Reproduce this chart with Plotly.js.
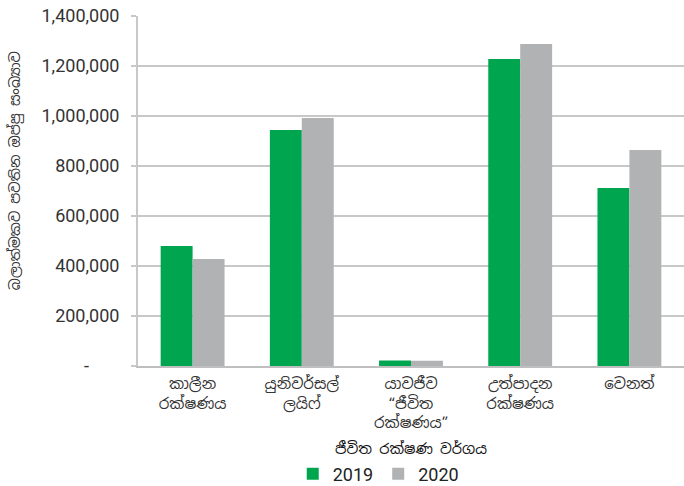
<!DOCTYPE html>
<html>
<head>
<meta charset="utf-8">
<script src="https://cdn.plot.ly/plotly-3.0.1.min.js"></script>
<style>html,body{margin:0;padding:0;background:#fff;}#chart{width:684px;height:486px;}</style>
</head>
<body>
<div id="chart"></div>
<script>
var categories = ["කාලීන<br>රක්ෂණය", "යුනිවර්සල්<br>ලයිෆ්", "යාවජීව<br>“ජීවිත<br>රක්ෂණය”", "උත්පාදන<br>රක්ෂණය", "වෙනත්"];
var series2019 = [480000, 944000, 22000, 1228000, 712000];
var series2020 = [428000, 992000, 21000, 1288000, 864000];
var yTickVals = [0, 200000, 400000, 600000, 800000, 1000000, 1200000, 1400000];
var yTickText = ["-\u2007\u2007\u2007", "200,000", "400,000", "600,000", "800,000", "1,000,000", "1,200,000", "1,400,000"];
var yTitle = "බලාත්මකව පවතින ඔප්පු සංඛ්‍යාව";
var xTitle = "ජීවිත රක්ෂණ වර්ගය";

var numFont = "Roboto, 'Liberation Sans', sans-serif";
var sinFont = "'Noto Sans Sinhala', 'Noto Sans', 'DejaVu Sans', sans-serif";

var data = [
  {type: "bar", name: "2019", x: categories, y: series2019, marker: {color: "#00A64F"}},
  {type: "bar", name: "2020", x: categories, y: series2020, marker: {color: "#B1B2B4"}}
];

var layout = {
  width: 684, height: 486,
  margin: {l: 138, r: 0, t: 16, b: 120, autoexpand: false},
  paper_bgcolor: "#fff", plot_bgcolor: "#fff",
  barmode: "group",
  bargap: 0.415,
  bargroupgap: 0,
  showlegend: true,
  legend: {orientation: "h", x: 0.44, xanchor: "center", y: -0.309, yanchor: "middle",
           font: {family: numFont, size: 18, color: "#222"}, itemwidth: 30, tracegroupgap: 0},
  xaxis: {
    type: "category",
    showgrid: false, showline: true, linecolor: "#BFBFBF", linewidth: 2,
    ticks: "", ticklabelstandoff: 3,
    tickfont: {family: sinFont, size: 15, color: "#333"},
    automargin: false
  },
  yaxis: {
    range: [0, 1400000],
    tickvals: yTickVals, ticktext: yTickText,
    showgrid: true, gridcolor: "#C8C8C8", gridwidth: 2,
    showline: true, linecolor: "#C8C8C8", linewidth: 2,
    ticks: "outside", ticklen: 5, tickcolor: "#C8C8C8", tickwidth: 2,
    ticklabelstandoff: 8,
    tickfont: {family: numFont, size: 18, color: "#333"},
    zeroline: false,
    automargin: false
  },
  annotations: [
    {text: xTitle, xref: "paper", yref: "paper", x: 0.5, y: -0.237, xanchor: "center", yanchor: "middle",
     showarrow: false, font: {family: sinFont, size: 14.5, color: "#111"}},
    {text: yTitle, xref: "paper", yref: "paper", x: -0.225, y: 0.557, xanchor: "center", yanchor: "middle",
     textangle: -90, showarrow: false, font: {family: sinFont, size: 14, color: "#333"}}
  ]
};

Plotly.newPlot("chart", data, layout, {displayModeBar: false, staticPlot: true});
</script>
</body>
</html>
